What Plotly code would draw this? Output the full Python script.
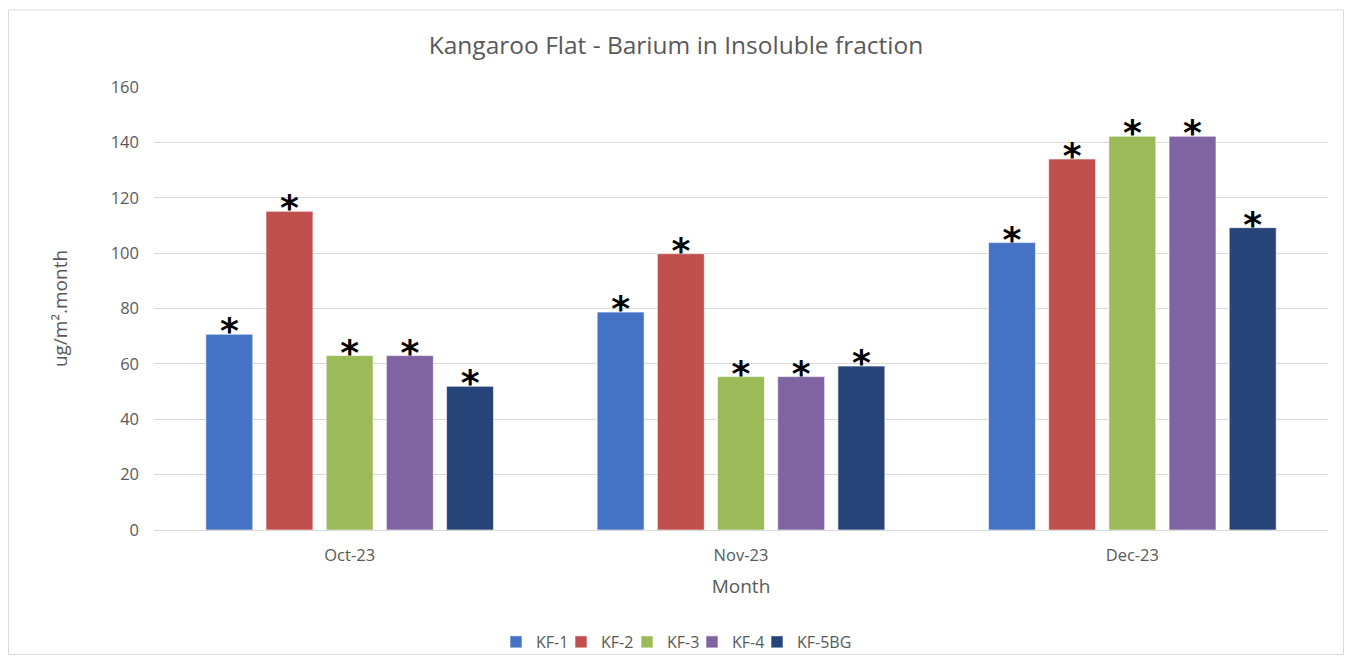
import plotly.graph_objects as go

months = ["Oct-23", "Nov-23", "Dec-23"]
series_names = ["KF-1", "KF-2", "KF-3", "KF-4", "KF-5BG"]
kf1 = [70.7, 78.7, 103.8]
kf2 = [115.1, 99.8, 134.0]
kf3 = [63.0, 55.4, 142.2]
kf4 = [63.0, 55.4, 142.2]
kf5bg = [51.9, 59.2, 109.2]
colors = ["#4472C4", "#C0504D", "#9BBB59", "#8064A2", "#264478"]
y_ticks = [0, 20, 40, 60, 80, 100, 120, 140, 160]

FONT = "Open Sans, Lato, sans-serif"
GREY = "#595959"

legend_ids = ["legend", "legend2", "legend3", "legend4", "legend5"]
legend_left_px = [488, 553, 619, 684, 749]

fig = go.Figure()
all_vals = [kf1, kf2, kf3, kf4, kf5bg]
for name, vals, col, lid in zip(series_names, all_vals, colors, legend_ids):
    fig.add_trace(go.Bar(
        x=months, y=vals, name=name,
        marker=dict(color=col, line=dict(color="rgba(255,255,255,0.6)", width=1)),
        legend=lid,
    ))
for name, vals in zip(series_names, all_vals):
    fig.add_trace(go.Scatter(
        x=months, y=vals, mode="text", text=["*"] * len(vals),
        textposition="middle center",
        textfont=dict(family="DejaVu Sans", size=36, color="#000000", weight="bold"),
        showlegend=False, hoverinfo="skip", cliponaxis=False,
    ))

leg_common = dict(orientation="h", y=-0.2528, yanchor="middle", xanchor="left",
                  bgcolor="rgba(0,0,0,0)", font=dict(size=16, color=GREY),
                  traceorder="normal")
legends = {lid: dict(x=(px - 146) / 1174, **leg_common)
           for lid, px in zip(legend_ids, legend_left_px)}

fig.update_layout(
    width=1336, height=647,
    paper_bgcolor="white", plot_bgcolor="white",
    margin=dict(l=146, r=16, t=79, b=125, autoexpand=False),
    barmode="group", bargap=0.231, bargroupgap=0.22,
    scattermode="group", scattergap=0.231,
    title=dict(text="Kangaroo Flat - Barium in Insoluble fraction",
               x=0.5, xanchor="center", y=1 - 37 / 647, yanchor="middle",
               font=dict(family=FONT, size=24.5, color=GREY)),
    font=dict(family=FONT, color=GREY, size=16),
    xaxis=dict(
        title=dict(text="Month", font=dict(size=19, color=GREY), standoff=14),
        tickfont=dict(size=16.5, color=GREY),
        showline=True, linecolor="#D9D9D9", linewidth=1,
        ticks="", showgrid=False, ticklabelstandoff=10,
    ),
    yaxis=dict(
        title=dict(text="ug/m².month", font=dict(size=19, color=GREY), standoff=38),
        range=[0, 160], tickvals=y_ticks,
        tickfont=dict(size=16.5, color=GREY),
        showgrid=True, gridcolor="#D9D9D9", gridwidth=1,
        zeroline=False, ticks="", ticklabelstandoff=14,
    ),
    showlegend=True,
    **legends,
)

fig.add_shape(type="rect", xref="paper", yref="paper",
              x0=(0.5 - 146) / 1174, x1=(1335.5 - 146) / 1174,
              y0=(522 - 646.5) / 443, y1=(522 - 2) / 443,
              line=dict(color="#D9D9D9", width=1), fillcolor="rgba(0,0,0,0)", layer="below")

fig.write_html("out.html")
